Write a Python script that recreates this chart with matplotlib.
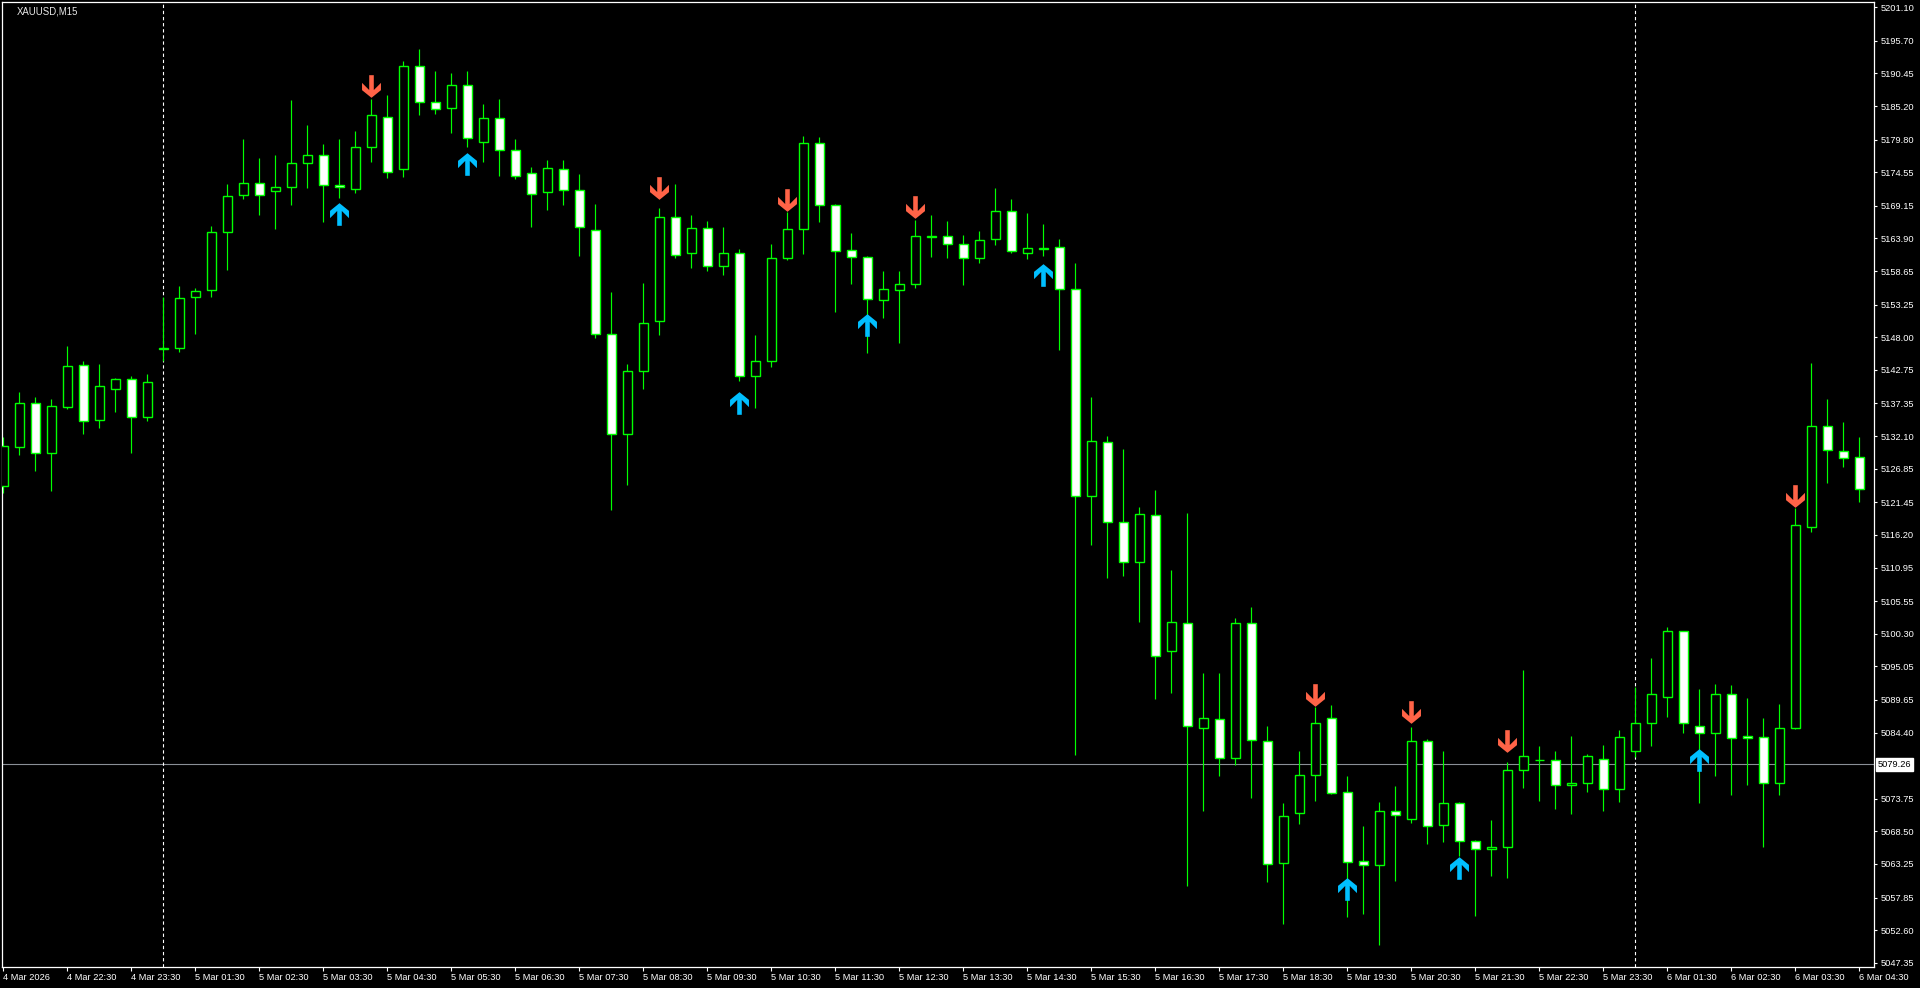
import matplotlib
matplotlib.use("Agg")
import matplotlib.pyplot as plt
from matplotlib.path import Path
from matplotlib.transforms import blended_transform_factory
import numpy as np

plt.rcParams['font.family'] = ['Liberation Sans', 'DejaVu Sans']

# ---------------- data (XAUUSD M15) ----------------
opens = [5124.07, 5130.40, 5137.38, 5129.43, 5136.83, 5143.49, 5134.64, 5139.63, 5141.24, 5135.13,
         5146.10, 5146.23, 5154.44, 5155.56, 5164.90, 5170.85, 5172.78, 5171.49, 5172.14, 5176.00,
         5177.29, 5172.46, 5171.81, 5178.57, 5183.50, 5175.03, 5191.61, 5185.81, 5184.85, 5188.55,
         5179.38, 5183.24, 5178.09, 5174.39, 5171.33, 5175.03, 5171.65, 5165.22, 5148.48, 5132.39,
         5142.53, 5150.57, 5167.31, 5161.52, 5165.54, 5159.42, 5161.52, 5141.72, 5144.14, 5160.71,
         5165.38, 5179.22, 5169.24, 5162.00, 5160.87, 5153.95, 5155.56, 5156.53, 5164.20, 5164.25,
         5162.96, 5160.73, 5163.77, 5168.37, 5161.63, 5162.25, 5162.47, 5155.72, 5122.40, 5131.10,
         5118.22, 5111.89, 5119.36, 5097.44, 5101.95, 5085.20, 5086.52, 5080.35, 5101.95, 5082.99,
         5063.36, 5071.41, 5077.52, 5086.69, 5074.79, 5063.68, 5063.04, 5071.73, 5070.44, 5082.99,
         5069.48, 5073.02, 5066.90, 5065.61, 5065.94, 5078.33, 5079.90, 5079.93, 5075.95, 5076.23,
         5080.10, 5075.27, 5081.38, 5085.89, 5090.07, 5100.69, 5085.50, 5084.28, 5090.55, 5083.80,
         5083.64, 5076.23, 5085.08, 5117.43, 5133.68, 5129.66, 5128.69]
highs = [5131.91, 5139.20, 5138.35, 5138.07, 5146.60, 5144.19, 5143.70, 5141.45, 5141.77, 5142.09,
         5154.53, 5156.25, 5155.93, 5165.91, 5172.67, 5179.91, 5176.85, 5177.33, 5186.18, 5182.16,
         5179.10, 5179.91, 5181.20, 5186.30, 5186.99, 5192.46, 5194.39, 5190.85, 5190.53, 5190.85,
         5185.54, 5186.34, 5179.91, 5175.40, 5176.53, 5176.53, 5174.28, 5169.45, 5155.24, 5143.70,
         5156.74, 5168.81, 5172.67, 5167.68, 5166.71, 5165.75, 5162.21, 5148.37, 5163.01, 5168.20,
         5180.39, 5180.18, 5169.45, 5164.78, 5161.00, 5158.67, 5158.67, 5166.90, 5167.68, 5166.71,
         5164.46, 5165.09, 5172.06, 5170.25, 5168.03, 5166.23, 5163.77, 5159.99, 5138.41, 5132.09,
         5130.03, 5120.68, 5123.46, 5110.57, 5119.76, 5093.98, 5093.98, 5102.85, 5104.59, 5085.37,
         5073.05, 5081.43, 5088.50, 5088.78, 5077.36, 5069.36, 5073.22, 5075.80, 5085.29, 5083.31,
         5081.43, 5073.22, 5067.11, 5070.33, 5079.61, 5094.47, 5082.24, 5081.43, 5083.84, 5080.90,
         5082.40, 5084.81, 5091.78, 5096.40, 5101.38, 5100.80, 5091.41, 5092.21, 5092.05, 5089.96,
         5086.74, 5088.99, 5120.50, 5143.86, 5138.07, 5134.37, 5131.96]
lows = [5122.99, 5129.11, 5126.53, 5123.32, 5136.51, 5132.49, 5133.45, 5136.03, 5129.43, 5134.58,
        5144.23, 5145.68, 5148.58, 5154.53, 5158.88, 5170.30, 5167.73, 5165.47, 5169.34, 5172.07,
        5166.60, 5170.40, 5171.27, 5176.21, 5173.68, 5173.84, 5183.82, 5183.98, 5180.92, 5178.60,
        5176.21, 5174.00, 5173.52, 5165.80, 5168.53, 5169.34, 5161.13, 5147.84, 5120.26, 5124.28,
        5139.73, 5148.42, 5160.81, 5159.20, 5158.72, 5158.07, 5141.02, 5136.67, 5143.27, 5160.50,
        5161.45, 5166.60, 5152.12, 5156.62, 5145.52, 5151.15, 5147.13, 5155.98, 5160.97, 5160.81,
        5156.46, 5159.91, 5162.79, 5161.60, 5160.65, 5161.00, 5145.88, 5080.85, 5114.51, 5109.33,
        5109.51, 5102.20, 5089.72, 5090.70, 5059.76, 5071.82, 5077.33, 5079.21, 5073.87, 5060.42,
        5053.51, 5069.73, 5073.43, 5074.50, 5054.77, 5055.25, 5050.26, 5060.51, 5069.89, 5066.51,
        5066.84, 5064.60, 5054.93, 5061.37, 5061.04, 5075.53, 5073.43, 5072.15, 5071.34, 5074.88,
        5071.82, 5073.27, 5080.51, 5082.28, 5086.95, 5084.28, 5073.11, 5077.46, 5074.40, 5076.01,
        5065.94, 5074.40, 5084.90, 5116.72, 5124.60, 5127.18, 5121.55]
closes = [5130.51, 5137.38, 5129.43, 5136.90, 5143.33, 5134.48, 5140.12, 5141.24, 5135.13, 5140.76,
          5146.20, 5154.27, 5155.40, 5164.90, 5170.69, 5172.78, 5170.85, 5172.14, 5176.00, 5177.29,
          5172.46, 5172.14, 5178.57, 5183.72, 5174.55, 5191.61, 5185.81, 5184.69, 5188.55, 5180.02,
          5183.24, 5178.09, 5174.00, 5171.11, 5175.19, 5171.65, 5165.70, 5148.48, 5132.39, 5142.53,
          5150.25, 5167.31, 5161.19, 5165.54, 5159.42, 5161.52, 5141.72, 5144.14, 5160.71, 5165.38,
          5179.22, 5169.24, 5161.84, 5160.87, 5154.11, 5155.72, 5156.53, 5164.25, 5164.30, 5162.96,
          5160.71, 5163.61, 5168.37, 5161.81, 5162.29, 5162.30, 5155.80, 5122.40, 5131.27, 5118.22,
          5111.89, 5119.52, 5096.78, 5102.12, 5085.37, 5086.68, 5080.35, 5101.95, 5083.15, 5063.20,
          5070.92, 5077.52, 5085.89, 5074.62, 5063.52, 5063.04, 5071.73, 5071.08, 5082.99, 5069.31,
          5073.02, 5066.90, 5065.61, 5065.94, 5078.33, 5080.58, 5079.95, 5075.91, 5076.20, 5080.58,
          5075.27, 5083.64, 5085.89, 5090.55, 5100.69, 5085.89, 5084.28, 5090.55, 5083.47, 5083.47,
          5076.23, 5085.08, 5117.75, 5133.68, 5129.82, 5128.53, 5123.64]

# signal arrows: bar index and arrow (centre) price
sell_idx = [23, 41, 49, 57, 82, 88, 94, 112]
sell_price = [5188.39, 5171.94, 5170.01, 5168.89, 5090.36, 5087.63, 5082.96, 5122.42]
buy_idx = [21, 29, 46, 54, 65, 84, 91, 106]
buy_price = [5167.84, 5175.93, 5137.48, 5149.90, 5158.10, 5059.27, 5062.65, 5080.03]

# day separators (bar index of first bar of a new day)
day_sep_idx = [10, 102]

bid_price = 5079.26

price_ticks = [5201.10, 5195.70, 5190.45, 5185.20, 5179.80, 5174.55, 5169.15, 5163.90, 5158.65,
               5153.25, 5148.00, 5142.75, 5137.35, 5132.10, 5126.85, 5121.45, 5116.20, 5110.95,
               5105.55, 5100.30, 5095.05, 5089.65, 5084.40, 5073.75, 5068.50, 5063.25, 5057.85,
               5052.60, 5047.35]

time_labels = ["4 Mar 2026", "4 Mar 22:30", "4 Mar 23:30",
               "5 Mar 01:30", "5 Mar 02:30", "5 Mar 03:30", "5 Mar 04:30", "5 Mar 05:30",
               "5 Mar 06:30", "5 Mar 07:30", "5 Mar 08:30", "5 Mar 09:30", "5 Mar 10:30",
               "5 Mar 11:30", "5 Mar 12:30", "5 Mar 13:30", "5 Mar 14:30", "5 Mar 15:30",
               "5 Mar 16:30", "5 Mar 17:30", "5 Mar 18:30", "5 Mar 19:30", "5 Mar 20:30",
               "5 Mar 21:30", "5 Mar 22:30", "5 Mar 23:30",
               "6 Mar 01:30", "6 Mar 02:30", "6 Mar 03:30", "6 Mar 04:30"]

# ---------------- figure ----------------
W, H = 1920, 988
fig = plt.figure(figsize=(W / 100, H / 100), dpi=100, facecolor='black')
ax = fig.add_axes([2 / W, 21 / H, 1872 / W, 965 / H], facecolor='black')

GREEN = '#00FF00'
o = np.array(opens); c = np.array(closes)
hi = np.array(highs); lo = np.array(lows)
x = np.arange(len(o))

ax.vlines(x, lo, hi, colors=GREEN, linewidth=0.85, zorder=2)
fill = np.where(c >= o, 'black', 'white')
ax.bar(x, c - o, bottom=o, width=0.56, color=fill, edgecolor=GREEN,
       linewidth=1.0, zorder=3)

# arrows (wingdings-like)
dverts = [(-2.3, 0), (2.3, 0), (2.3, 14.9), (9.5, 7.7), (9.5, 15.0), (0, 22.7),
          (-9.5, 15.0), (-9.5, 7.7), (-2.3, 14.9), (-2.3, 0)]
down_v = [(vx, 11.35 - vy) for vx, vy in dverts]
up_v = [(vx, vy - 11.35) for vx, vy in dverts]
codes = [Path.MOVETO] + [Path.LINETO] * (len(dverts) - 2) + [Path.CLOSEPOLY]
down_marker = Path(down_v, codes)
up_marker = Path(up_v, codes)
ax.plot(sell_idx, sell_price, ls='none', marker=down_marker, ms=16.3,
        color='#FF6347', mew=0, zorder=5)
ax.plot(buy_idx, buy_price, ls='none', marker=up_marker, ms=16.3,
        color='#00BFFF', mew=0, zorder=5)

# bid line
ax.axhline(bid_price, color='#8A8F96', linewidth=0.8, zorder=1)

# day separators
for d in day_sep_idx:
    ax.axvline(d, color='white', linewidth=0.8, linestyle=(0, (3, 2.5)), zorder=1)

# limits
ax.set_xlim(-0.08125, 116.91875)
ax.set_ylim(5046.67, 5201.95)

# spines
for s in ax.spines.values():
    s.set_color('white')
    s.set_linewidth(0.9)

# y axis on the right
ax.yaxis.tick_right()
ax.set_yticks(price_ticks)
ax.set_yticklabels(['%.2f' % v for v in price_ticks])
ax.tick_params(axis='y', which='both', direction='out', length=2.5, width=0.8,
               colors='white', labelsize=6.7, pad=2.0)
for lab in ax.get_yticklabels():
    lab.set_horizontalalignment('left')

# x axis
ax.set_xticks(np.arange(0, len(o), 4)[:len(time_labels)])
ax.set_xticklabels(time_labels)
ax.tick_params(axis='x', which='both', direction='out', length=3.0, width=0.8,
               colors='white', labelsize=6.7, pad=1.2)
for lab in ax.get_xticklabels():
    lab.set_horizontalalignment('left')

# bid price box
tr = blended_transform_factory(ax.transAxes, ax.transData)
ax.text(1.0 + 4 / 1872, bid_price, '%.2f' % bid_price, transform=tr, ha='left', va='center',
        fontsize=6.7, color='black', zorder=10, clip_on=False,
        bbox=dict(boxstyle='square,pad=0.18', facecolor='white', edgecolor='white'))

# title
fig.text(17 / W, 1 - 11 / H, 'XAUUSD,M15', color='#E8E8E8', fontsize=6.9,
         ha='left', va='center')

fig.savefig('out.png', dpi=100, facecolor='black')
